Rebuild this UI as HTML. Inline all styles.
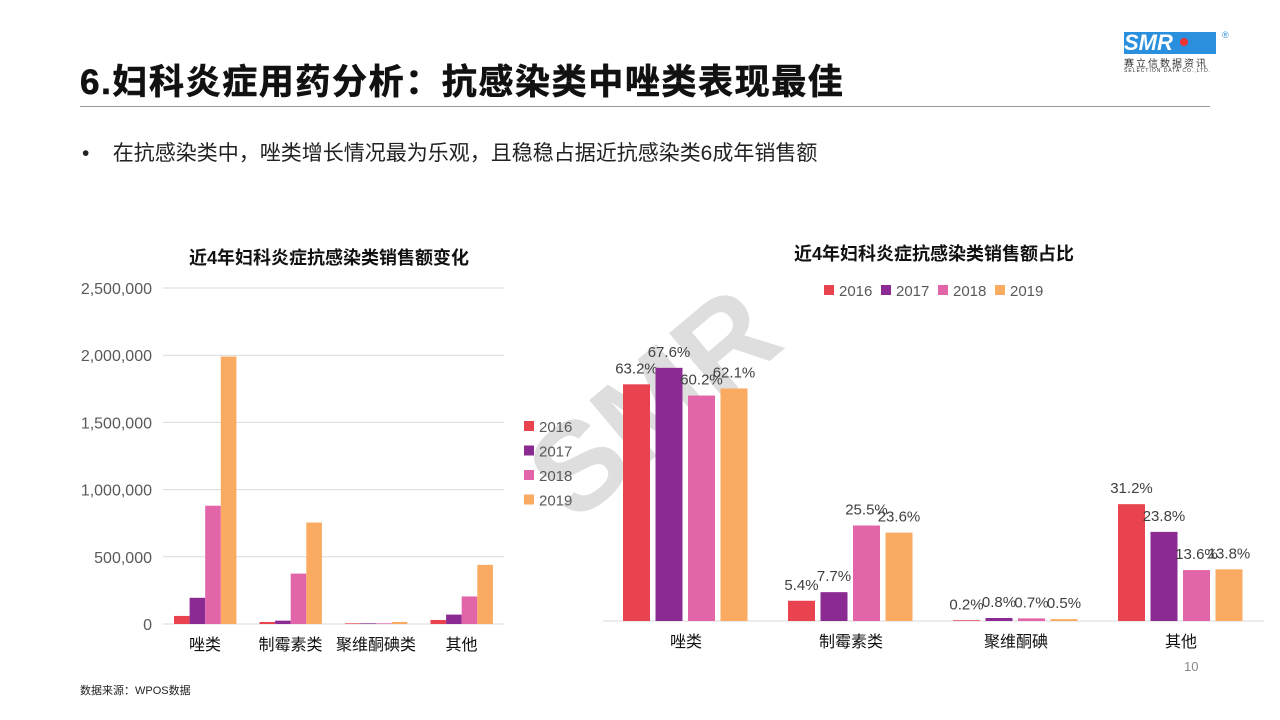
<!DOCTYPE html>
<html><head><meta charset="utf-8">
<style>
body{margin:0;width:1280px;height:720px;background:#fff;overflow:hidden;position:relative;font-family:"Liberation Sans","Noto Sans CJK SC",sans-serif}
.abs{position:absolute}
svg text{font-family:"Liberation Sans","Noto Sans CJK SC",sans-serif}
</style></head><body>
<div class="abs" style="left:80px;top:54px;font-size:35px;font-weight:bold;color:#111;letter-spacing:1.6px;-webkit-text-stroke:0.6px #111">6.妇科炎症用药分析：抗感染类中唑类表现最佳</div>
<div class="abs" style="left:80px;top:106px;width:1130px;height:1px;background:#999"></div>
<div class="abs" style="left:1124px;top:30px;width:110px;height:46px">
 <div style="position:absolute;left:0;top:2px;width:92px;height:22px;background:#2a8fdc;color:#fff;font-weight:bold;font-size:22px;line-height:22px;font-style:italic">SMR</div>
 <div style="position:absolute;left:56px;top:8px;width:8px;height:8px;border-radius:50%;background:#e33"></div>
 <div style="position:absolute;left:98px;top:0;font-size:9px;color:#2a8fdc">®</div>
 <div style="position:absolute;left:0;top:25px;font-size:10px;color:#333;letter-spacing:2px">赛立信数据资讯</div>
 <div style="position:absolute;left:0;top:38px;font-size:5px;color:#333;letter-spacing:1px">SELECTION DATA CO.,LTD.</div>
</div>
<div class="abs" style="left:82px;top:137px;font-size:21px;color:#222">•&nbsp;&nbsp;&nbsp;&nbsp;在抗感染类中，唑类增长情况最为乐观，且稳稳占据近抗感染类6成年销售额</div>
<div class="abs" style="left:80px;top:682px;font-size:11px;color:#222">数据来源：WPOS数据</div>
<div class="abs" style="left:1184px;top:659px;font-size:13px;color:#888">10</div>

<svg class="abs" style="left:0;top:0" width="1280" height="720">
<text x="655" y="445" font-size="125" font-weight="bold" fill="#dedede" text-anchor="middle" transform="rotate(-40 655 405)">SMR</text>
<g id="left"></g><g id="right"></g>
</svg>
<script>
const years=["2016","2017","2018","2019"];
const colors=["#E8434F","#8B2A92","#E264A9","#FBAA61"];
const leftCats=["唑类","制霉素类","聚维酮碘类","其他"];
const left2016=[60000,15000,5000,30000];
const left2017=[195000,25000,5000,70000];
const left2018=[880000,375000,5000,205000];
const left2019=[1990000,755000,15000,440000];
const leftTicks=[0,500000,1000000,1500000,2000000,2500000];
const rightCats=["唑类","制霉素类","聚维酮碘","其他"];
const right2016=[63.2,5.4,0.2,31.2];
const right2017=[67.6,7.7,0.8,23.8];
const right2018=[60.2,25.5,0.7,13.6];
const right2019=[62.1,23.6,0.5,13.8];
const NS="http://www.w3.org/2000/svg";
function mk(p,t,a,txt){const e=document.createElementNS(NS,t);for(const k in a)e.setAttribute(k,a[k]);if(txt!==undefined)e.textContent=txt;p.appendChild(e);return e;}
const L=document.getElementById('left');
const ly=v=>624-v/2500000*336;
const lx=i=>205+i*85.5;
mk(L,'text',{x:329,y:264,'font-size':18,'font-weight':'bold',fill:'#111','text-anchor':'middle',},'近4年妇科炎症抗感染类销售额变化');
leftTicks.forEach(t=>{
 const g=mk(L,'line',{x1:163,x2:504,y1:ly(t),y2:ly(t),stroke:'#d9d9d9'});
 
 const tx=mk(L,'text',{x:152,y:ly(t)+6,'font-size':16,fill:'#595959','text-anchor':'end'},t.toLocaleString('en-US'));
 
});
const lser=[left2016,left2017,left2018,left2019];
leftCats.forEach((c,i)=>{
 lser.forEach((s,j)=>{
  const x=lx(i)-31+j*15.6;
  const r=mk(L,'rect',{x:x,y:ly(s[i]),width:15.6,height:624-ly(s[i]),fill:colors[j]});
  
 });
 const t=mk(L,'text',{x:lx(i),y:650,'font-size':16,fill:'#111','text-anchor':'middle'},c);
 
});
years.forEach((y,j)=>{
 const r=mk(L,'rect',{x:524,y:421+j*24.5,width:10,height:10,fill:colors[j]});
 
 const t=mk(L,'text',{x:539,y:432+j*24.5,'font-size':15,fill:'#595959'},y);
 
});
const R=document.getElementById('right');
const ry=v=>621-v*3.745;
const rx=i=>686+i*165;
mk(R,'text',{x:934,y:260,'font-size':18,'font-weight':'bold',fill:'#111','text-anchor':'middle',},'近4年妇科炎症抗感染类销售额占比');
years.forEach((y,j)=>{
 const r=mk(R,'rect',{x:824+j*57,y:285,width:10,height:10,fill:colors[j]});
 
 const t=mk(R,'text',{x:839+j*57,y:296,'font-size':15,fill:'#595959'},y);
 
});
const base=mk(R,'line',{x1:603,x2:1264,y1:621,y2:621,stroke:'#d9d9d9'});

const rser=[right2016,right2017,right2018,right2019];
rightCats.forEach((c,i)=>{
 rser.forEach((s,j)=>{
  const x=rx(i)-63+j*32.5;
  const r=mk(R,'rect',{x:x,y:ry(s[i]),width:27,height:621-ry(s[i]),fill:colors[j]});
  
  const t=mk(R,'text',{x:x+13.5,y:ry(s[i])-11,'font-size':15,fill:'#404040','text-anchor':'middle'},s[i].toFixed(1)+'%');
  
 });
 const t=mk(R,'text',{x:rx(i),y:647,'font-size':16,fill:'#111','text-anchor':'middle'},c);
 
});
</script>
</body></html>
